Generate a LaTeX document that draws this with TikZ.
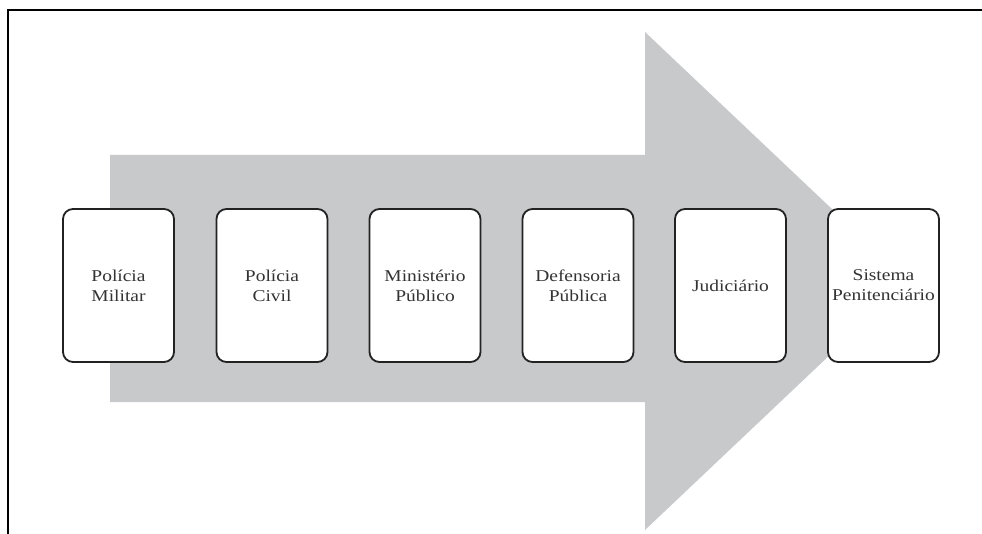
\documentclass[tikz,border=0pt]{standalone}
\usepackage{fontspec}
\setmainfont{Liberation Serif}[FakeStretch=1.18]
\definecolor{arrowgray}{HTML}{C8C9CB}
\definecolor{boxline}{HTML}{222222}
\definecolor{txt}{HTML}{333333}
\begin{document}
\begin{tikzpicture}[x=1pt,y=-1pt,
  organ/.style={draw=boxline,line width=1.8pt,fill=white,rounded corners=10pt,
    minimum width=111pt,minimum height=153pt,inner sep=0pt,align=center,
    text=txt,font=\fontsize{16.5}{20}\selectfont},
  frame/.style={draw=black,line width=2pt}]
\useasboundingbox (0,0) rectangle (982,534);
% frame
\draw[frame] (982,10) -- (7.5,10) -- (7.5,534);
% big arrow
\fill[arrowgray] (110,155) -- (645,155) -- (645,32) -- (908,281) -- (645,530) -- (645,402) -- (110,402) -- cycle;
% boxes
\node[organ] (pm) at (118.5,285.5) {Polícia\\Militar};
\node[organ] (pc) at (272,285.5) {Polícia\\Civil};
\node[organ] (mp) at (425,285.5) {Ministério\\Público};
\node[organ] (dp) at (578,285.5) {Defensoria\\Pública};
\node[organ] (ju) at (730.5,285.5) {Judiciário};
\node[organ] (sp) at (883.5,285.5) {Sistema\\Penitenciário};
\end{tikzpicture}
\end{document}
